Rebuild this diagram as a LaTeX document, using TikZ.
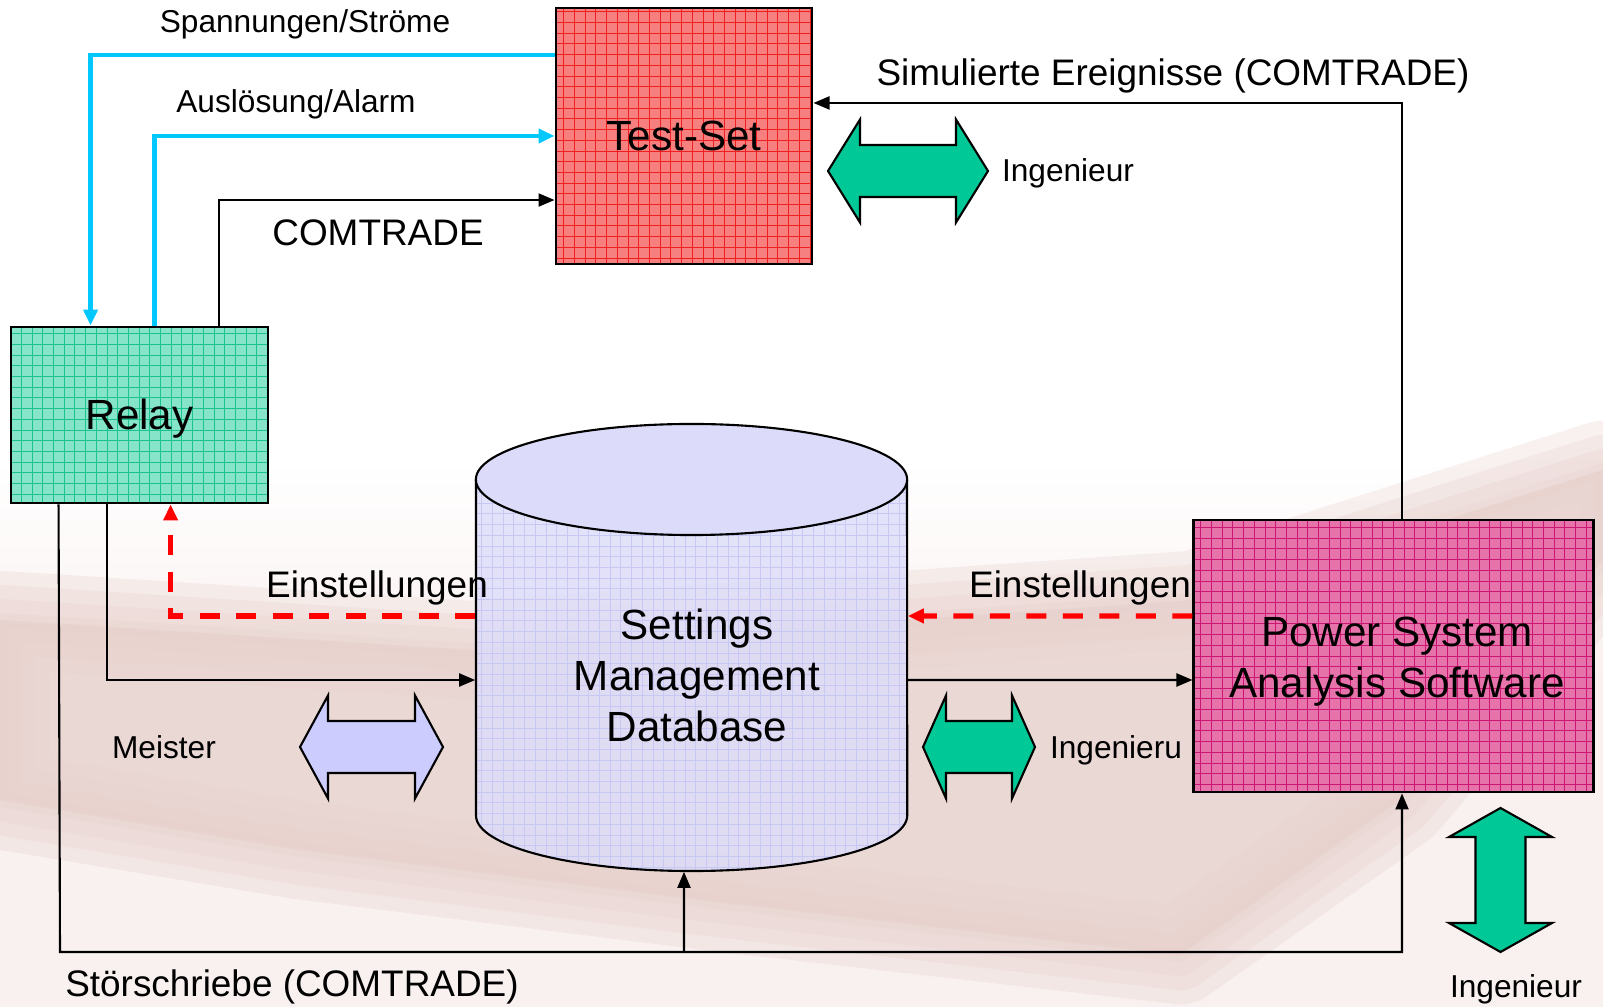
\documentclass[tikz,border=0pt]{standalone}
\usepackage{fontspec}
\setmainfont{Liberation Sans}
\usetikzlibrary{arrows.meta}

\definecolor{testred}{RGB}{246,128,128}
\definecolor{testgrid}{RGB}{240,30,30}
\definecolor{relaygreen}{RGB}{134,228,200}
\definecolor{relaygrid}{RGB}{25,194,143}
\definecolor{powerpink}{RGB}{230,115,170}
\definecolor{powergrid}{RGB}{204,22,115}
\definecolor{dbfill}{RGB}{220,220,250}
\definecolor{dbgrid}{RGB}{200,200,245}
\definecolor{sigcyan}{RGB}{0,200,255}
\definecolor{setred}{RGB}{255,0,0}
\definecolor{engreen}{RGB}{0,200,150}
\definecolor{mslav}{RGB}{204,204,255}
\definecolor{washlight}{RGB}{249,241,239}
\definecolor{washdark}{RGB}{232,210,206}

\tikzset{
  box/.style={draw, line width=.8pt, inner sep=0pt},
  boxlabel/.style={text height=.3cm, text depth=0pt},
  gridded/.style={path picture={\draw[#1, line width=.25pt]
    (path picture bounding box.south west) grid[step=.107cm]
    (path picture bounding box.north east);}},
  conn/.style={line width=.6pt, -{Triangle[length=.16cm, width=.13cm]}},
  sig/.style={line width=1.2pt, color=sigcyan, -{Triangle[length=.16cm, width=.14cm]}},
  setting/.style={line width=1.5pt, color=setred, dash pattern=on .2cm off .165cm,
    -{Triangle[length=.16cm, width=.14cm]}},
  lbl/.style={font=\fontsize{9}{11}\selectfont, anchor=base},
  lblm/.style={font=\fontsize{10.5}{12.5}\selectfont, anchor=base},
  big/.style={font=\fontsize{12}{14.5}\selectfont},
  dbl/.style={draw, line width=.6pt, line join=miter},
}

\begin{document}
\begin{tikzpicture}[x=.01cm, y=-.01cm]
  \useasboundingbox (0,0) rectangle (1603,1007);
  % background wash
  \shade[top color=white, bottom color=washlight] (0,460) rectangle (1603,680);
  \fill[washlight] (0,679) rectangle (1603,1007);
  \foreach \w in {28,20,12,4}
    \filldraw[washdark, opacity=.3, line width=\w pt, line join=round]
      (0,620) -- (470,650) -- (1194,600) -- (1603,470) -- (1603,560) -- (1400,800)
      -- (1180,955) -- (700,900) -- (300,850) -- (0,800) -- cycle;

  % boxes
  \node[box, boxlabel, big, fill=testred, gridded=testgrid, minimum width=2.56cm,
    minimum height=2.56cm] (testset) at (684,136) {Test-Set};
  \node[box, boxlabel, big, fill=relaygreen, gridded=relaygrid, minimum width=2.57cm,
    minimum height=1.76cm] (relay) at (139.5,415) {Relay};
  \node[box, fill=powerpink, gridded=powergrid, minimum width=3.99cm,
    minimum height=2.72cm] (power) at (1393.5,656) {};
  \node[big, align=center] (powername) at (1397,662) {Power System\\Analysis Software};

  % database
  \path[fill=dbfill, fill opacity=.8, gridded=dbgrid] (476,479.5) -- (476,815.5)
    arc (180:360:2.155cm and .555cm) -- (907,479.5) arc (0:180:2.155cm and .555cm) -- cycle;
  \draw[line width=.6pt] (476,479.5) -- (476,815.5) arc (180:360:2.155cm and .555cm) -- (907,479.5);
  \draw[line width=.6pt, fill=dbfill] (691.5,479.5) ellipse [x radius=2.155cm, y radius=.555cm];
  \node[minimum width=4.31cm, minimum height=4.47cm] (db) at (691.5,647.5) {};
  \node[big, align=center] (dbname) at (697,675) {Settings\\Management\\Database};

  % connectors
  \draw[sig] ([yshift=.81cm]testset.west) -| ([xshift=.81cm]relay.north west);
  \draw[sig] ([xshift=1.45cm]relay.north west) |- (testset.west);
  \draw[conn] ([xshift=2.09cm]relay.north west) |- ([yshift=-.64cm]testset.west);
  \draw[conn] ([xshift=.085cm]power.north) |- ([yshift=.33cm]testset.east);
  \draw[setting] ([yshift=.315cm]db.west) -| ([xshift=1.61cm]relay.south west);
  \draw[setting] ([yshift=.40cm]power.west) -- ([yshift=.315cm]db.east);
  \draw[conn] ([xshift=.97cm]relay.south west) |- ([yshift=-.325cm]db.west);
  \draw[conn] ([yshift=-.325cm]db.east) -- ([yshift=-.24cm]power.west);
  \coordinate (busL) at (60,952);
  \coordinate (busM) at (684,952);
  \coordinate (busR) at (1402,952);
  \draw[conn] ([xshift=.49cm]relay.south west) -- (busL) -- (busR) -- ([xshift=.085cm]power.south);
  \draw[conn] (busM) -- ([xshift=-.075cm]db.south);

  % double arrows
  \foreach \tx/\ty/\len/\hd/\col in {828/171/160/32/engreen, 300/747/143/28/mslav, 923/747/112/23/engreen}
    \draw[dbl, fill=\col] (\tx,\ty) -- ++(\hd,-51.5) -- ++(0,25.5) -- ++(\len-2*\hd,0)
      -- ++(0,-25.5) -- ++(\hd,51.5) -- ++(-\hd,51.5) -- ++(0,-25.5)
      -- ++(-\len+2*\hd,0) -- ++(0,25.5) -- cycle;
  \draw[dbl, fill=engreen] (1500.5,808) -- ++(51.5,29) -- ++(-26.5,0) -- ++(0,86)
    -- ++(26.5,0) -- ++(-51.5,29) -- ++(-51.5,-29) -- ++(26.5,0) -- ++(0,-86)
    -- ++(-26.5,0) -- cycle;

  % labels
  \node[lbl] (spannung) at (305,33) {Spannungen/Ströme};
  \node[lbl] (alarm) at (296,113) {Auslösung/Alarm};
  \node[lblm] (comtrade) at (378,246) {COMTRADE};
  \node[lblm] (simuliert) at (1173,86) {Simulierte Ereignisse (COMTRADE)};
  \node[lbl] (ingtop) at (1068,182) {Ingenieur};
  \node[lblm] (einstL) at (377,598) {Einstellungen};
  \node[lblm] (einstR) at (1080,598) {Einstellungen};
  \node[lbl] (meister) at (164,759) {Meister};
  \node[lbl] (ingmid) at (1116,759) {Ingenieru};
  \node[lbl] (ingbot) at (1516,998) {Ingenieur};
  \node[lblm] (stoer) at (292,997) {Störschriebe (COMTRADE)};
\end{tikzpicture}
\end{document}
